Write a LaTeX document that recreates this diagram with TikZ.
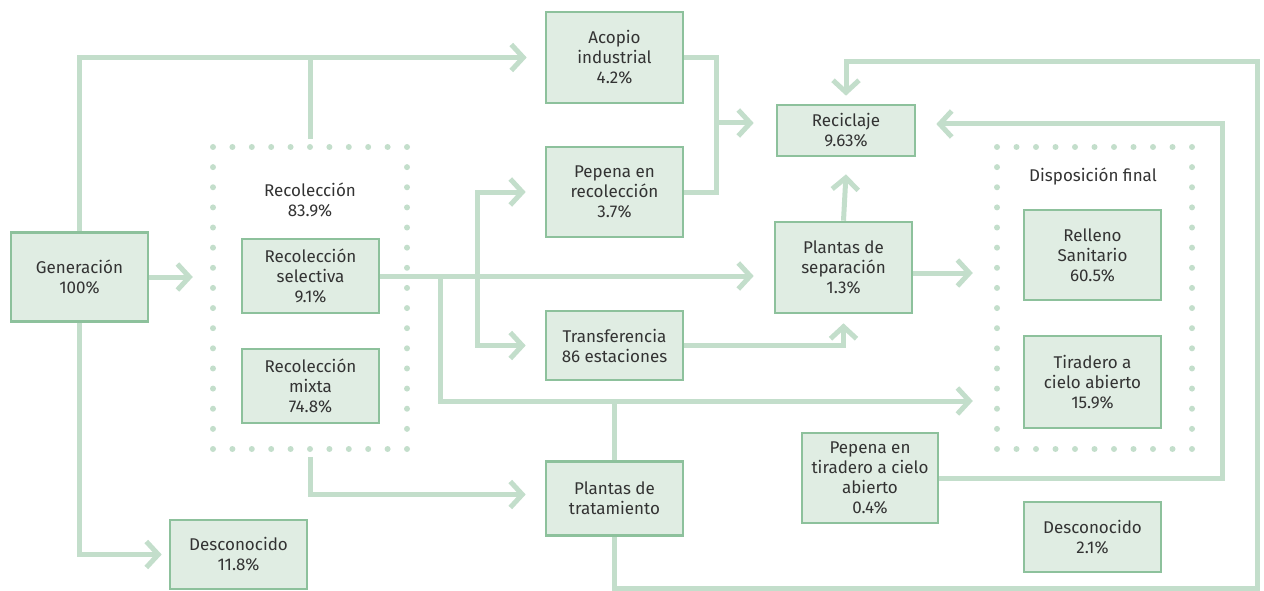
\documentclass[tikz,border=0pt]{standalone}
\usepackage{fontspec}
\setmainfont{Fira Sans}
\usetikzlibrary{arrows.meta}
\definecolor{linec}{HTML}{C3DECB}
\definecolor{boxb}{HTML}{8DC19C}
\definecolor{boxf}{HTML}{E0EDE3}
\definecolor{txt}{HTML}{333333}
\begin{document}
\begin{tikzpicture}[x=1pt,y=-1pt,
  box/.style={draw=boxb, fill=boxf, line width=2.6pt, align=center, text=txt, inner sep=0pt,
    font=\fontsize{17}{20}\selectfont},
  lbl/.style={align=center, text=txt, inner sep=0pt, font=\fontsize{17}{20}\selectfont},
  frame/.style={inner sep=0pt},
  flow/.style={draw=linec, line width=5pt},
  arr/.style={flow, -{Straight Barb[length=12pt,width=26pt]}},
  dot/.style={fill=linec}
]
\useasboundingbox (0,0) rectangle (1264,591);

% dotted frames
\node[frame, minimum width=194pt, minimum height=302pt] (recframe) at (310,298) {};
\node[frame, minimum width=195pt, minimum height=302pt] (dispframe) at (1094.5,298) {};
\foreach \i in {0,...,10} {
  \fill[dot] ({213+\i*19.4},147) circle[radius=3pt];
  \fill[dot] ({213+\i*19.4},449) circle[radius=3pt];
  \fill[dot] ({997+\i*19.5},147) circle[radius=3pt];
  \fill[dot] ({997+\i*19.5},449) circle[radius=3pt];
}
\foreach \j in {1,...,14} {
  \fill[dot] (213,{147+\j*20.133}) circle[radius=3pt];
  \fill[dot] (407,{147+\j*20.133}) circle[radius=3pt];
  \fill[dot] (997,{147+\j*20.133}) circle[radius=3pt];
  \fill[dot] (1192,{147+\j*20.133}) circle[radius=3pt];
}
\node[lbl] (reclbl) at (310,200) {Recolección\\83.9\%};
\node[lbl] (displbl) at (1093,177) {Disposición final};

% boxes
\node[box, minimum width=137pt, minimum height=89pt] (gen) at (79.5,277) {Generación\\100\%};
\node[box, minimum width=137pt, minimum height=74pt] (sel) at (310.5,276) {Recolección\\selectiva\\9.1\%};
\node[box, minimum width=137pt, minimum height=74pt] (mix) at (310.5,386) {Recolección\\mixta\\74.8\%};
\node[box, minimum width=137pt, minimum height=69pt] (desc1) at (238.5,554.5) {Desconocido\\11.8\%};
\node[box, minimum width=137pt, minimum height=91pt] (acopio) at (614.5,57.5) {Acopio\\industrial\\4.2\%};
\node[box, minimum width=137pt, minimum height=90pt] (peprec) at (614.5,192) {Pepena en\\recolección\\3.7\%};
\node[box, minimum width=137pt, minimum height=69pt] (trans) at (614.5,345.5) {Transferencia\\86 estaciones};
\node[box, minimum width=137pt, minimum height=74pt] (trat) at (614.5,498.5) {Plantas de\\tratamiento};
\node[box, minimum width=138pt, minimum height=51pt] (recic) at (846,130.5) {Reciclaje\\9.63\%};
\node[box, minimum width=137pt, minimum height=91pt] (sep) at (843.5,267.5) {Plantas de\\separación\\1.3\%};
\node[box, minimum width=136pt, minimum height=90pt] (peptir) at (870,478) {Pepena en\\tiradero a cielo\\abierto\\0.4\%};
\node[box, minimum width=137pt, minimum height=90pt] (rell) at (1092.5,255) {Relleno\\Sanitario\\60.5\%};
\node[box, minimum width=137pt, minimum height=92pt] (tira) at (1092.5,382) {Tiradero a\\cielo abierto\\15.9\%};
\node[box, minimum width=137pt, minimum height=70pt] (desc2) at (1092.5,537) {Desconocido\\2.1\%};

% junction coordinates
\coordinate (j1) at (477,276.5);
\coordinate (j2) at (440,276.5);
\coordinate (j3) at (440,401);
\coordinate (j4) at (716,123);
\coordinate (c1) at (1257,588);
\coordinate (c2) at (1257,62);
\coordinate (c3) at (1222,124);
\coordinate (rectop) at (310,139);

% connectors
\draw[arr] (gen.north) |- ([xshift=-18pt]acopio.west);
\draw[flow] (rectop) -- (rectop |- acopio.west);
\draw[arr] (gen.east) -- ([xshift=-20pt]recframe.west |- gen.east);
\draw[arr] (gen.south) |- ([xshift=-7pt]desc1.west);
\draw[arr] (sel.east) -- ([xshift=-20pt]sep.west |- sel.east);
\draw[arr] (j1) |- ([xshift=-19pt]peprec.west);
\draw[arr] (j1) |- ([xshift=-19pt]trans.west);
\draw[arr] (j2) -- (j3) -- ([xshift=-24pt]dispframe.west |- j3);
\draw[flow] (trat.north) -- (trat.north |- j3);
\draw[arr] ([yshift=-8pt]recframe.south) |- ([xshift=-19pt,yshift=4pt]trat.west);
\draw[flow] (acopio.east) -| (j4) |- (peprec.east);
\draw[arr] (j4) -- ([xshift=-22pt]recic.west |- j4);
\draw[arr] (trans.east) -| ([yshift=-9pt]sep.south);
\draw[arr] (sep.north) -- ([yshift=-17pt]recic.south);
\draw[arr] ([yshift=-5.5pt]sep.east) -- ([xshift=-24pt,yshift=-5.5pt]dispframe.west |- sep.east);
\draw[arr] (trat.south) |- (c1) -- (c2) -| ([yshift=8pt]recic.north);
\draw[arr] (peptir.east) -| (c3) -- ([xshift=20pt]recic.east |- c3);
\end{tikzpicture}
\end{document}
